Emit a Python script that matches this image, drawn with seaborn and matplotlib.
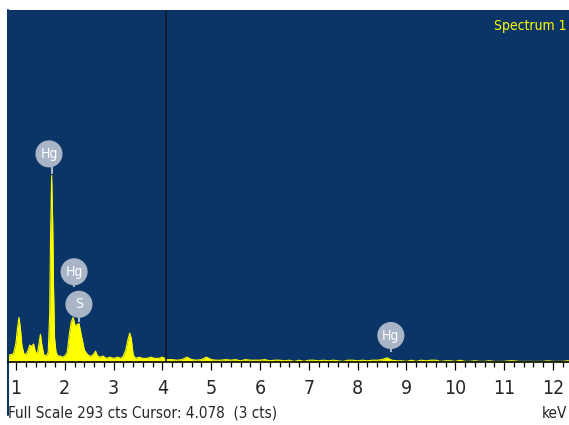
import matplotlib
matplotlib.use('Agg')
import matplotlib.pyplot as plt
from matplotlib.ticker import MultipleLocator
import seaborn as sns

# EDS spectrum, energy in keV and counts
energy_low = [0.82, 0.86, 0.90, 0.95, 1.00, 1.03, 1.06, 1.09, 1.12, 1.16, 1.20, 1.25, 1.28,
              1.32, 1.36, 1.40, 1.44, 1.47, 1.50, 1.53, 1.57, 1.62, 1.66, 1.69, 1.71,
              1.73, 1.75, 1.77, 1.79, 1.82, 1.86, 1.90, 1.95, 2.00, 2.05, 2.09, 2.13,
              2.17, 2.21, 2.25, 2.29, 2.32, 2.36, 2.40, 2.45, 2.50, 2.55, 2.60, 2.63,
              2.67, 2.72, 2.78, 2.85, 2.92, 3.00, 3.08, 3.15, 3.20, 3.25, 3.29, 3.33,
              3.36, 3.40, 3.45, 3.52, 3.60, 3.68, 3.76, 3.84, 3.92, 4.00]
counts_low = [6, 6, 6, 7, 16, 28, 37, 28, 14, 7, 6, 10, 14,
              13, 15, 8, 7, 15, 23, 14, 6, 5, 8, 40, 110,
              155, 120, 60, 20, 8, 5, 5, 4, 5, 8, 22, 33,
              37, 30, 31, 32, 26, 18, 10, 7, 5, 5, 7, 9,
              5, 4, 5, 3, 4, 3, 4, 3, 5, 10, 18, 24,
              20, 6, 3, 4, 3, 3, 4, 3, 3, 4]
energy_high = [4.1, 4.2, 4.3, 4.4, 4.5, 4.6, 4.7, 4.8, 4.9, 5.0, 5.1, 5.2, 5.3, 5.4,
               5.5, 5.6, 5.7, 5.8, 5.9, 6.0, 6.1, 6.2, 6.3, 6.4, 6.5, 6.6, 6.7, 6.8,
               6.9, 7.0, 7.1, 7.2, 7.3, 7.4, 7.5, 7.6, 7.7, 7.8, 7.9, 8.0, 8.1, 8.2,
               8.3, 8.4, 8.5, 8.6, 8.7, 8.8, 8.9, 9.0, 9.1, 9.2, 9.3, 9.4, 9.5, 9.6,
               9.7, 9.8, 9.9, 10.0, 10.1, 10.2, 10.3, 10.4, 10.5, 10.6, 10.7, 10.8,
               10.9, 11.0, 11.1, 11.2, 11.3, 11.4, 11.5, 11.6, 11.7, 11.8, 11.9,
               12.0, 12.1, 12.2, 12.3, 12.4]
counts_high = [2, 2, 1.5, 2, 4, 2, 1.5, 2, 4, 2, 1.5, 1.5, 2, 1.5,
               2, 1, 2, 1.5, 1.5, 1.5, 2, 1, 1.5, 1.5, 1, 1.5, 0.5, 1.5,
               0.5, 1.5, 1.5, 1, 1.5, 1, 1.5, 1, 0.5, 1.5, 1.5, 1, 1.5, 1,
               1.5, 1.5, 2, 3.5, 1.5, 1, 1, 0.5, 1.5, 0.5, 1.5, 1, 1.5, 1.5,
               0.5, 1, 1, 0.5, 1.5, 0.5, 0.5, 1, 0.5, 0.5, 1, 0.5,
               0.5, 0.5, 1, 1, 0.5, 0.5, 0.5, 0.5, 0.5, 0.5, 1,
               0.5, 0.5, 0.5, 1, 0.5]

# peak labels: text, circle position (keV, cts), peak position (keV, cts)
label_text = ['Hg', 'Hg', 'S', 'Hg']
label_keV = [1.676, 2.19, 2.29, 8.68]
label_cts = [173, 75, 48, 22]
peak_keV = [1.738, 2.19, 2.29, 8.68]
peak_cts = [156, 62, 33, 8]

FULL_SCALE = 293
CURSOR = 4.078

energy = energy_low + energy_high
counts = counts_low + counts_high

BG = '#0a3566'
YEL = '#ffff00'
LBL = '#a9b5c6'
FONT = dict(family='DejaVu Sans', stretch='condensed')

sns.set_style('white')
fig = plt.figure(figsize=(5.69, 4.25), dpi=100)
ax = fig.add_axes([7.5 / 569, 1 - 362 / 425, 1 - 7.5 / 569, (362 - 9.5) / 425])
ax.set_facecolor(BG)

ax.fill_between(energy, 0, counts, color=YEL, lw=0)
sns.lineplot(x=energy, y=counts, ax=ax, color=YEL, lw=0.8, sort=False)

# cursor
ax.axvline(CURSOR, color='#111820', lw=1.2)

# peak labels with stems
for t, lx, ly, px, py in zip(label_text, label_keV, label_cts, peak_keV, peak_cts):
    ax.plot([px, px], [py, ly - 10], color=LBL, lw=1.5, solid_capstyle='butt')
    ax.scatter([lx], [ly], s=380, color=LBL, edgecolors='none', zorder=3)
    ax.text(lx, ly, t, color='white', fontsize=10, ha='center', va='center', zorder=4,
            **FONT)

ax.set_xlim(0.826, 12.33)
ax.set_ylim(0, FULL_SCALE)

for s in ['top', 'right', 'left']:
    ax.spines[s].set_visible(False)
ax.spines['bottom'].set_color('black')
ax.spines['bottom'].set_linewidth(1.2)

ax.xaxis.set_major_locator(MultipleLocator(1))
ax.xaxis.set_minor_locator(MultipleLocator(0.2))
ax.tick_params(axis='x', which='major', bottom=True, length=6, width=0.9, color='black',
               pad=6, labelsize=14)
ax.tick_params(axis='x', which='minor', bottom=True, length=3.5, width=0.9, color='black')
ax.set_xticklabels([str(int(v)) if v == int(v) else '' for v in ax.get_xticks()], **FONT)
ax.set_yticks([])
ax.set_xlabel('')
ax.set_ylabel('')

# left edge line running into the axis area
ax.plot([0, 0], [-0.15, 1], transform=ax.transAxes, color=BG, lw=1.5, clip_on=False)

fig.text(566 / 569, 1 - 26 / 425, 'Spectrum 1', color=YEL, fontsize=10,
         ha='right', va='center', **FONT)

fig.text(8 / 569, 1 - 413 / 425, 'Full Scale %d cts Cursor: %.3f  (3 cts)' % (FULL_SCALE, CURSOR),
         fontsize=11, ha='left', va='center', **FONT)
fig.text(567 / 569, 1 - 413 / 425, 'keV', fontsize=11, ha='right', va='center', **FONT)

plt.savefig('out.png', dpi=100)
